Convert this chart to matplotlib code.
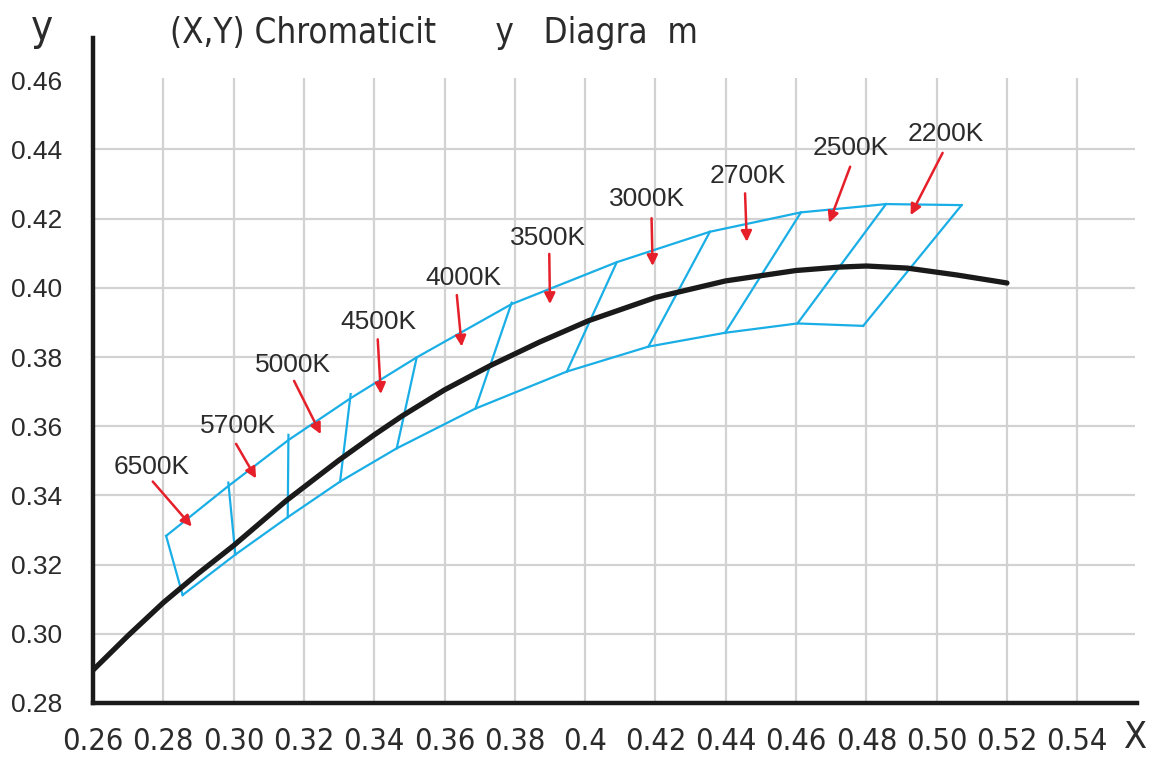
import matplotlib
matplotlib.use('Agg')
import matplotlib.pyplot as plt
import numpy as np

plt.rcParams['font.family'] = ['Liberation Sans', 'DejaVu Sans']
NARROW = dict(family='DejaVu Sans', stretch='condensed')

# black planckian-like curve
locus_x = [0.260, 0.270, 0.280, 0.290, 0.300, 0.315, 0.330, 0.340, 0.348, 0.360, 0.373,
           0.387, 0.401, 0.420, 0.440, 0.460, 0.4725, 0.480, 0.4916, 0.5058, 0.520]
locus_y = [0.2895, 0.2995, 0.3090, 0.3175, 0.3255, 0.3385, 0.3502, 0.3575, 0.3630, 0.3705, 0.3775,
           0.3843, 0.3905, 0.3972, 0.4020, 0.4050, 0.4060, 0.4063, 0.4057, 0.4037, 0.4014]

# blue quadrangles: upper arc, lower arc, dividers
top_x = [0.2808, 0.2985, 0.3156, 0.3333, 0.3521, 0.3791, 0.4090, 0.4355, 0.4614, 0.4777, 0.4856, 0.5071]
top_y = [0.3283, 0.3427, 0.3560, 0.3681, 0.3799, 0.3953, 0.4074, 0.4162, 0.4218, 0.4234, 0.4242, 0.4239]
bot_x = [0.2855, 0.3005, 0.3154, 0.3303, 0.3464, 0.3688, 0.3948, 0.4180, 0.4398, 0.4604, 0.4791]
bot_y = [0.3112, 0.3229, 0.3337, 0.3440, 0.3536, 0.3651, 0.3758, 0.3830, 0.3870, 0.3897, 0.3890]
div_top_x = [0.2808, 0.2985, 0.3156, 0.3333, 0.3521, 0.3791, 0.4090, 0.4355, 0.4614, 0.4856, 0.5071]
div_top_y = [0.3283, 0.3437, 0.3575, 0.3693, 0.3799, 0.3957, 0.4074, 0.4162, 0.4218, 0.4242, 0.4239]
div_bot_x = [0.2855, 0.3005, 0.3154, 0.3303, 0.3464, 0.3688, 0.3948, 0.4180, 0.4398, 0.4604, 0.4791]
div_bot_y = [0.3112, 0.3229, 0.3337, 0.3440, 0.3536, 0.3651, 0.3758, 0.3830, 0.3870, 0.3897, 0.3890]

# CCT labels and arrows (tail -> head)
cct = ['6500K', '5700K', '5000K', '4500K', '4000K', '3500K', '3000K', '2700K', '2500K', '2200K']
lab_x = [0.2766, 0.3012, 0.3168, 0.3412, 0.3654, 0.3894, 0.4176, 0.4464, 0.4756, 0.5025]
lab_y = [0.3482, 0.3602, 0.3777, 0.3902, 0.4027, 0.4145, 0.4256, 0.4324, 0.4403, 0.4444]
tail_x = [0.2770, 0.3007, 0.3172, 0.3410, 0.3635, 0.3898, 0.4189, 0.4455, 0.4754, 0.5017]
tail_y = [0.3440, 0.3549, 0.3731, 0.3851, 0.3979, 0.4098, 0.4201, 0.4273, 0.4350, 0.4390]
head_x = [0.2881, 0.3064, 0.3248, 0.3419, 0.3649, 0.3900, 0.4192, 0.4460, 0.4694, 0.4926]
head_y = [0.3310, 0.3449, 0.3577, 0.3693, 0.3830, 0.3953, 0.4063, 0.4133, 0.4188, 0.4210]

xticks = [0.26, 0.28, 0.30, 0.32, 0.34, 0.36, 0.38, 0.40, 0.42, 0.44, 0.46, 0.48, 0.50, 0.52, 0.54]
xticklabels = ['0.26', '0.28', '0.30', '0.32', '0.34', '0.36', '0.38', '0.4', '0.42',
               '0.44', '0.46', '0.48', '0.50', '0.52', '0.54']
yticks = [0.28, 0.30, 0.32, 0.34, 0.36, 0.38, 0.40, 0.42, 0.44, 0.46]
yticklabels = ['0.28', '0.30', '0.32', '0.34', '0.36', '0.38', '0.40', '0.42', '0.44', '0.46']

W, H = 1154, 758
fig = plt.figure(figsize=(W/100, H/100), dpi=100)
ax = fig.add_axes([93/W, 1-703/H, (1137-93)/W, (703-38)/H])
ax.set_xlim(0.26, 0.557)
ax.set_ylim(0.28, 0.4722)

blue = '#1aaee6'
grey = '#d2d2d2'
red = '#e5202a'
txt = '#2b2b2b'

ax.vlines(xticks[1:], 0.28, 0.4605, color=grey, lw=1.6, zorder=0)
ax.hlines(yticks[1:-1], 0.26, 0.5565, color=grey, lw=1.6, zorder=0)

ax.plot(top_x, top_y, color=blue, lw=1.6, zorder=2)
ax.plot(bot_x, bot_y, color=blue, lw=1.6, zorder=2)
for i in range(len(div_top_x)):
    ax.plot([div_top_x[i], div_bot_x[i]], [div_top_y[i], div_bot_y[i]], color=blue, lw=1.6, zorder=2)

ax.plot(locus_x, locus_y, color='#1a1a1a', lw=3.8, zorder=3,
        solid_capstyle='round', solid_joinstyle='round')

for i in range(len(cct)):
    ax.text(lab_x[i], lab_y[i], cct[i], fontsize=19, color=txt, ha='center', va='center')
    ax.annotate('', xy=(head_x[i], head_y[i]), xytext=(tail_x[i], tail_y[i]),
                arrowprops=dict(arrowstyle='-|>', color=red, lw=1.8, mutation_scale=16,
                                shrinkA=0, shrinkB=0), zorder=4)

for s in ['top', 'right']:
    ax.spines[s].set_visible(False)
for s in ['left', 'bottom']:
    ax.spines[s].set_linewidth(3.2)
    ax.spines[s].set_color('#1a1a1a')
    ax.spines[s].set_capstyle('projecting')

ax.set_xticks(xticks)
ax.set_xticklabels(xticklabels, fontsize=22, color=txt, **NARROW)
ax.set_yticks(yticks)
ax.set_yticklabels(yticklabels, fontsize=19, color=txt)
ax.tick_params(axis='x', length=0, pad=17)
ax.tick_params(axis='y', length=0, pad=22)

fig.text(170/W, 1-43/H, '(X,Y) Chromaticit      y   Diagra  m',
         fontsize=25, color=txt, ha='left', va='baseline', **NARROW)
fig.text(42/W, 1-40/H, 'y', fontsize=30, color=txt, ha='center', va='baseline', **NARROW)
fig.text(1136/W, 1-748/H, 'X', fontsize=27, color=txt, ha='center', va='baseline', **NARROW)

fig.savefig('out.png', dpi=100)
